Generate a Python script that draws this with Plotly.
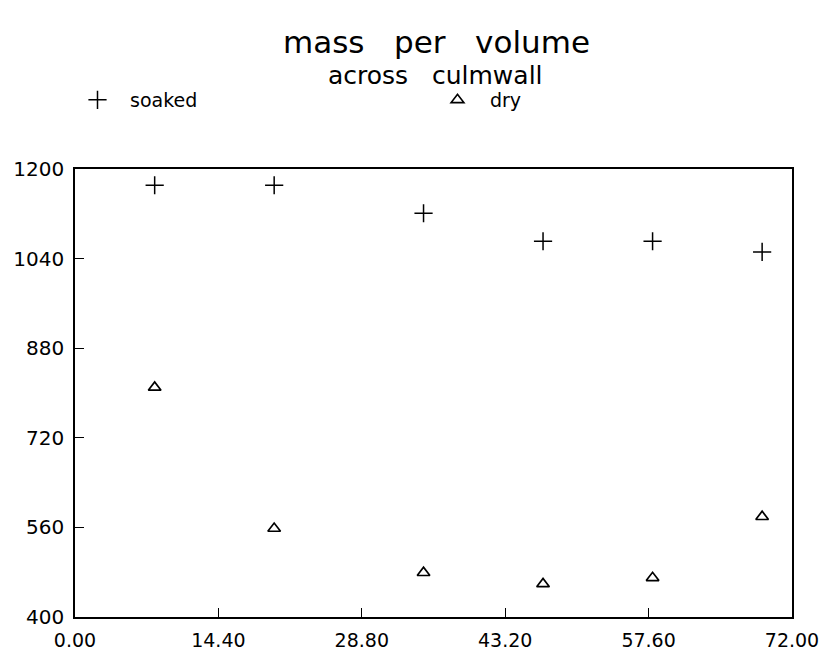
import plotly.graph_objects as go

position = [8, 20, 35, 47, 58, 69]
soaked = [1171, 1171, 1121, 1071, 1071, 1052]
dry = [810, 558, 479, 459, 470, 579]
x_ticks = [0, 14.4, 28.8, 43.2, 57.6, 72]
y_ticks = [400, 560, 720, 880, 1040, 1200]

FONT = "DejaVu Sans"

L, R, T, B = 75, 35, 169, 37
W, H = 827, 654
pw = W - L - R
ph = H - T - B


def px_x(p):
    return (p - L) / pw


def px_y(p):
    return (H - B - p) / ph


fig = go.Figure()
fig.add_trace(go.Scatter(
    x=position, y=soaked, mode="markers", name="soaked", legend="legend",
    marker=dict(symbol="cross-thin-open", size=13, color="black",
                line=dict(color="black", width=1.5)),
))
fig.add_trace(go.Scatter(
    x=position, y=dry, mode="markers", name="dry", legend="legend2",
    marker=dict(symbol="triangle-up-open", size=11, color="black",
                line=dict(color="black", width=1.7)),
))

legend_common = dict(yanchor="middle", xanchor="left", itemwidth=55,
                     font=dict(size=19, family=FONT, color="black"),
                     bgcolor="rgba(0,0,0,0)", borderwidth=0)

fig.update_layout(
    width=W, height=H,
    margin=dict(l=L, r=R, t=T, b=B, autoexpand=False),
    paper_bgcolor="white", plot_bgcolor="white",
    font=dict(family=FONT, color="black", size=18),
    showlegend=True,
    legend=dict(x=px_x(65), y=px_y(100), **legend_common),
    legend2=dict(x=px_x(425), y=px_y(100), **legend_common),
    xaxis=dict(range=[0, 72], tickvals=x_ticks, tickformat=".2f",
               showgrid=False, zeroline=False, showline=True, linecolor="black",
               linewidth=1.6, mirror=True, ticks="inside", ticklen=9,
               tickwidth=1.3, tickcolor="black", ticklabelstandoff=5,
               automargin=False,
               tickfont=dict(size=19, family=FONT)),
    yaxis=dict(range=[400, 1200], tickvals=y_ticks, tickformat="d",
               showgrid=False, zeroline=False, showline=True, linecolor="black",
               linewidth=1.6, mirror=True, ticks="inside", ticklen=9,
               tickwidth=1.3, tickcolor="black", ticklabelstandoff=5,
               automargin=False,
               tickfont=dict(size=20, family=FONT)),
    annotations=[
        dict(text="mass   per   volume", xref="paper", yref="paper",
             x=px_x(436), y=px_y(42), xanchor="center", yanchor="middle",
             showarrow=False, font=dict(size=31, family=FONT)),
        dict(text="across   culmwall", xref="paper", yref="paper",
             x=px_x(435), y=px_y(76), xanchor="center", yanchor="middle",
             showarrow=False, font=dict(size=25, family=FONT)),
    ],
)

fig.write_html("out.html")
